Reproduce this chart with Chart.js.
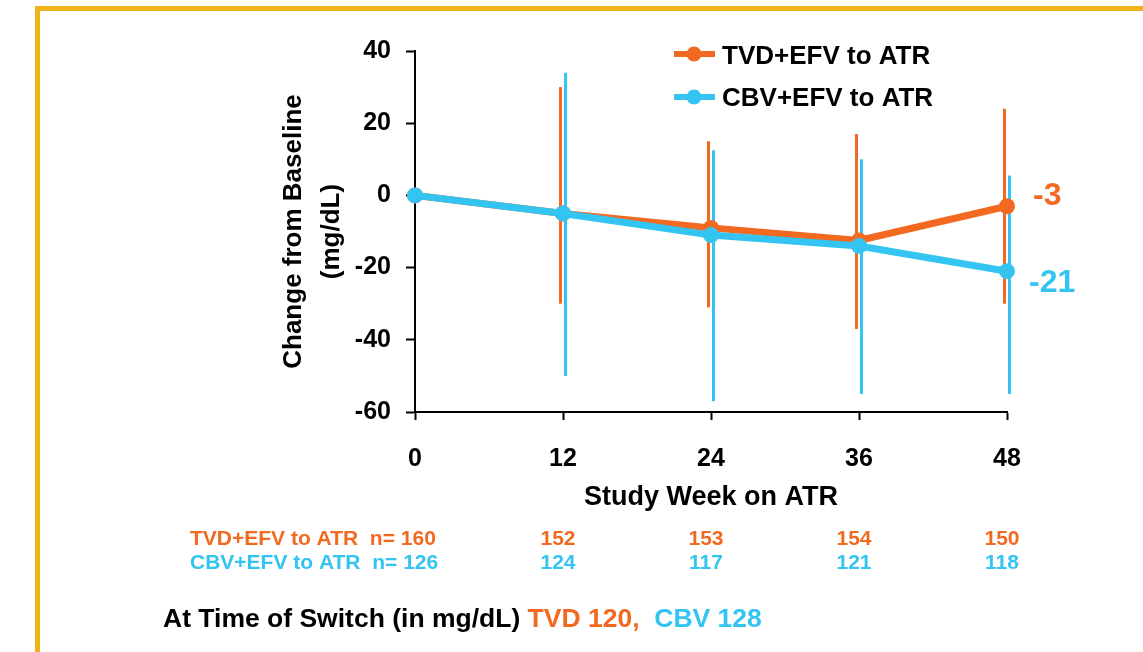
<!DOCTYPE html>
<html>
<head>
<meta charset="utf-8">
<title>Change from Baseline</title>
<script src="https://cdn.jsdelivr.net/npm/chart.js@4.4.1/dist/chart.umd.min.js"></script>
<style>
  html, body { margin: 0; padding: 0; background: #fff; overflow: hidden; }
  #wrap { position: relative; width: 1143px; height: 652px; }
  #frame { position: absolute; left: 35px; top: 6px; right: -10px; bottom: -10px;
           border-left: 5px solid #EFB21B; border-top: 5px solid #EFB21B; pointer-events: none; }
  canvas { position: absolute; left: 0; top: 0; }
</style>
</head>
<body>
<div id="wrap">
  <canvas id="chart" width="1143" height="652"></canvas>
  <div id="frame"></div>
</div>
<script>
// Semanas do estudo (eixo X)
const semanas = ['0', '12', '24', '36', '48'];

// Mudança média desde o baseline (mg/dL)
const tvdMedia = [0, -5, -9, -12.5, -3];
const cbvMedia = [0, -5, -11, -14, -21];

// Barras de erro (limite inferior / superior)
const tvdMin = [null, -30, -31, -37, -30];
const tvdMax = [null, 30, 15, 17, 24];
const cbvMin = [null, -50, -57, -55, -55];
const cbvMax = [null, 34, 12.5, 10, 5.5];

// Número de pacientes em cada visita
const tvdN = [160, 152, 153, 154, 150];
const cbvN = [126, 124, 117, 121, 118];

// Valores no momento da troca
const tvdTroca = 120;
const cbvTroca = 128;

const nomeTvd = 'TVD+EFV to ATR';
const nomeCbv = 'CBV+EFV to ATR';

const laranja = '#F26A21';
const azul = '#34C4F2';
const fonte = '"Liberation Sans", Arial, sans-serif';

// monta [min, max] para as barras flutuantes
function faixa(mins, maxs) {
  return mins.map((v, i) => v === null ? null : [v, maxs[i]]);
}

// Legenda, rótulos finais, tabela de n e rodapé
const textosExtras = {
  id: 'textosExtras',
  afterDraw(chart) {
    const { ctx, scales: { x, y } } = chart;
    ctx.save();

    // legenda
    const itens = [
      { nome: nomeTvd, cor: laranja, yLinha: 54, yTexto: 57 },
      { nome: nomeCbv, cor: azul, yLinha: 97, yTexto: 99 }
    ];
    itens.forEach(it => {
      ctx.strokeStyle = it.cor;
      ctx.lineWidth = 6;
      ctx.beginPath();
      ctx.moveTo(674, it.yLinha);
      ctx.lineTo(715, it.yLinha);
      ctx.stroke();
      ctx.fillStyle = it.cor;
      ctx.beginPath();
      ctx.arc(694, it.yLinha, 7.5, 0, Math.PI * 2);
      ctx.fill();
      ctx.fillStyle = '#000';
      ctx.font = 'bold 26px ' + fonte;
      ctx.textAlign = 'left';
      ctx.textBaseline = 'middle';
      ctx.fillText(it.nome, 722, it.yTexto);
    });

    // valores finais ao lado do último ponto
    const ultimo = semanas.length - 1;
    const xFinal = x.getPixelForValue(ultimo) + 24;
    ctx.font = 'bold 32px ' + fonte;
    ctx.fillStyle = laranja;
    ctx.fillText(String(tvdMedia[ultimo]), xFinal + 2, y.getPixelForValue(tvdMedia[ultimo]) - 10);
    ctx.fillStyle = azul;
    ctx.fillText(String(cbvMedia[ultimo]), xFinal - 2, y.getPixelForValue(cbvMedia[ultimo]) + 12);

    // tabela de pacientes
    ctx.font = 'bold 21px ' + fonte;
    const linhas = [
      { nome: nomeTvd, n: tvdN, cor: laranja, yy: 539 },
      { nome: nomeCbv, n: cbvN, cor: azul, yy: 563 }
    ];
    linhas.forEach(l => {
      ctx.fillStyle = l.cor;
      ctx.textAlign = 'left';
      ctx.fillText(l.nome + '  n= ' + l.n[0], 190, l.yy);
      ctx.textAlign = 'center';
      for (let i = 1; i < l.n.length; i++) {
        ctx.fillText(String(l.n[i]), x.getPixelForValue(i) - 5, l.yy);
      }
    });

    // rodapé
    ctx.font = 'bold 26.5px ' + fonte;
    ctx.textAlign = 'left';
    let px = 163;
    const partes = [
      ['At Time of Switch (in mg/dL) ', '#000'],
      ['TVD ' + tvdTroca + ',', laranja],
      ['  CBV ' + cbvTroca, azul]
    ];
    partes.forEach(([txt, cor]) => {
      ctx.fillStyle = cor;
      ctx.fillText(txt, px, 620);
      px += ctx.measureText(txt).width;
    });

    ctx.restore();
  }
};

const ctx = document.getElementById('chart').getContext('2d');
const grafico = new Chart(ctx, {
  type: 'line',
  data: {
    labels: semanas,
    datasets: [
      {
        type: 'line',
        label: nomeTvd,
        data: tvdMedia,
        borderColor: laranja,
        backgroundColor: laranja,
        borderWidth: 7,
        pointRadius: 8,
        pointBorderWidth: 0,
        pointBackgroundColor: laranja,
        tension: 0,
        clip: false,
        order: 1
      },
      {
        type: 'line',
        label: nomeCbv,
        data: cbvMedia,
        borderColor: azul,
        backgroundColor: azul,
        borderWidth: 7,
        pointRadius: 8,
        pointBorderWidth: 0,
        pointBackgroundColor: azul,
        tension: 0,
        clip: false,
        order: 0
      },
      {
        type: 'bar',
        label: nomeTvd + ' (faixa)',
        data: faixa(tvdMin, tvdMax),
        backgroundColor: laranja,
        borderWidth: 0,
        categoryPercentage: 0.068,
        barPercentage: 0.6,
        clip: false,
        order: 2
      },
      {
        type: 'bar',
        label: nomeCbv + ' (faixa)',
        data: faixa(cbvMin, cbvMax),
        backgroundColor: azul,
        borderWidth: 0,
        categoryPercentage: 0.068,
        barPercentage: 0.6,
        clip: false,
        order: 2
      }
    ]
  },
  options: {
    responsive: false,
    animation: false,
    layout: { padding: { left: 275, right: 136, top: 51, bottom: 138 } },
    plugins: {
      legend: { display: false },
      tooltip: { enabled: false }
    },
    scales: {
      x: {
        type: 'category',
        offset: false,
        afterFit: s => { s.height = 102; },
        grid: { offset: false, drawOnChartArea: false, drawTicks: true, tickLength: 8, tickColor: '#000', tickWidth: 2 },
        border: { color: '#000', width: 2 },
        ticks: { color: '#000', font: { family: fonte, size: 25, weight: 'bold' }, padding: 24, maxRotation: 0 },
        title: {
          display: true,
          text: 'Study Week on ATR',
          color: '#000',
          font: { family: fonte, size: 27, weight: 'bold' },
          padding: { top: 0, bottom: 0 }
        }
      },
      y: {
        min: -60,
        max: 40,
        afterFit: s => { s.width = 140; },
        grid: { drawOnChartArea: false, drawTicks: true, tickLength: 9, tickColor: '#000', tickWidth: 2 },
        border: { color: '#000', width: 2 },
        ticks: { stepSize: 20, color: '#000', font: { family: fonte, size: 25, weight: 'bold' }, padding: 15 },
        title: {
          display: true,
          text: ['Change from Baseline', '(mg/dL)'],
          color: '#000',
          font: { family: fonte, size: 26, weight: 'bold', lineHeight: 1.45 },
          padding: { top: 0, bottom: 0 }
        }
      }
    }
  },
  plugins: [textosExtras]
});
</script>
</body>
</html>
